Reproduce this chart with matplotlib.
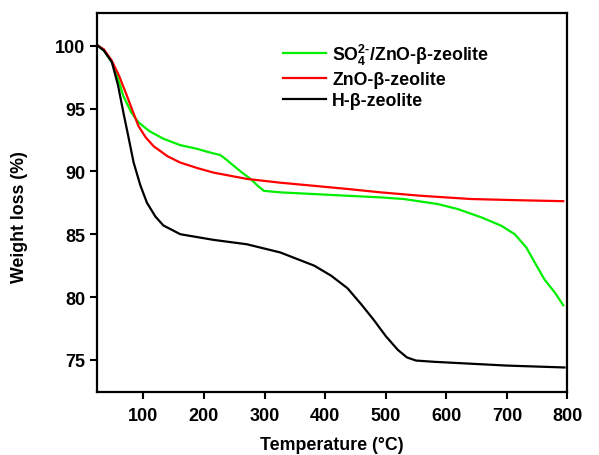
import matplotlib
matplotlib.use("Agg")
import matplotlib.pyplot as plt

plt.rcParams['font.family'] = ['Liberation Sans', 'DejaVu Sans']
plt.rcParams['font.weight'] = 'bold'
plt.rcParams['mathtext.fontset'] = 'custom'
plt.rcParams['mathtext.rm'] = 'Liberation Sans:bold'
plt.rcParams['mathtext.bf'] = 'Liberation Sans:bold'
plt.rcParams['mathtext.default'] = 'bf'

# SO4 2-/ZnO-beta-zeolite
so4_temp = [25, 35, 48, 58, 67, 80, 92, 110, 133, 160, 188, 210, 227, 238, 249,
            263, 277, 290, 299, 326, 380, 437, 492, 530, 586, 619, 658, 691,
            713, 732, 746, 762, 779, 793]
so4_wt = [100, 99.6, 98.7, 97.4, 96.0, 94.7, 93.9, 93.2, 92.6, 92.1, 91.8, 91.5,
          91.3, 90.9, 90.45, 89.9, 89.4, 88.8, 88.45, 88.33, 88.2, 88.06, 87.93,
          87.8, 87.4, 87.0, 86.34, 85.67, 85.0, 83.95, 82.75, 81.4, 80.37, 79.35]

# ZnO-beta-zeolite
zno_temp = [25, 35, 48, 60, 73, 84, 92, 104, 117, 140, 161, 190, 216, 271, 326,
            382, 437, 492, 558, 641, 724, 793]
zno_wt = [100, 99.7, 98.8, 97.6, 96.0, 94.6, 93.6, 92.7, 92.0, 91.2, 90.7, 90.25,
          89.9, 89.4, 89.1, 88.85, 88.6, 88.33, 88.06, 87.8, 87.7, 87.63]

# H-beta-zeolite
h_temp = [25, 35, 48, 58, 67, 76, 84, 95, 106, 120, 133, 161, 216, 271, 326, 382,
          410, 437, 460, 480, 500, 520, 535, 550, 580, 620, 700, 795]
h_wt = [100, 99.6, 98.7, 96.9, 94.7, 92.6, 90.7, 88.9, 87.5, 86.4, 85.7, 85.0,
        84.55, 84.2, 83.55, 82.5, 81.7, 80.7, 79.4, 78.2, 76.9, 75.8, 75.2, 74.95,
        74.85, 74.75, 74.55, 74.4]

x_ticks = [100, 200, 300, 400, 500, 600, 700, 800]
y_ticks = [75, 80, 85, 90, 95, 100]

fig = plt.figure(figsize=(5.99, 4.56), dpi=100)
ax = fig.add_axes([0.1614, 0.1382, 0.786, 0.8311])

ax.plot(so4_temp, so4_wt, color="#00ee00", lw=1.6,
        label=r"SO$_4^{2\text{-}}$/ZnO-β-zeolite")
ax.plot(zno_temp, zno_wt, color="#ff0000", lw=1.6, label="ZnO-β-zeolite")
ax.plot(h_temp, h_wt, color="black", lw=1.6, label="H-β-zeolite")

ax.set_xlim(23, 800)
ax.set_ylim(72.45, 102.6)
ax.set_xticks(x_ticks)
ax.set_yticks(y_ticks)

for s in ax.spines.values():
    s.set_linewidth(1.6)
ax.tick_params(direction="out", length=5, width=1.5, labelsize=13)
ax.tick_params(axis="x", pad=6)
ax.tick_params(axis="y", pad=3)

ax.set_xlabel("Temperature (°C)", fontsize=12.8, fontweight="bold")
ax.set_ylabel("Weight loss (%)", fontsize=12.8, fontweight="bold")
ax.xaxis.set_label_coords(0.5, -0.115)
ax.yaxis.set_label_coords(-0.145, 0.464)

ax.legend(loc="upper left", bbox_to_anchor=(0.396, 0.925), frameon=False,
          fontsize=12.8, handlelength=2.4, handletextpad=0.35, labelspacing=0.25,
          borderpad=0, borderaxespad=0)

fig.savefig("out.png", dpi=100)
